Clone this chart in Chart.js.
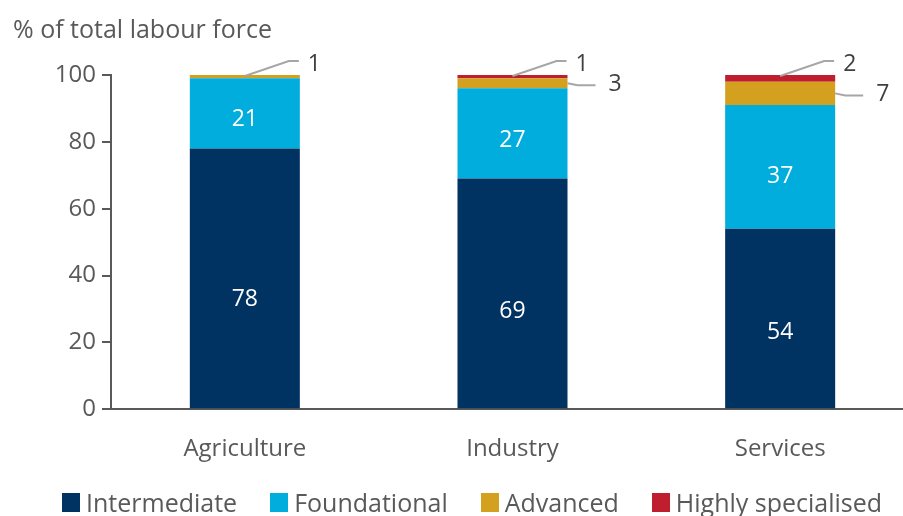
<!DOCTYPE html>
<html>
<head>
<meta charset="utf-8">
<script src="https://cdn.jsdelivr.net/npm/chart.js@4.4.1/dist/chart.umd.min.js"></script>
<style>
  html, body { margin: 0; padding: 0; background: #fff; overflow: hidden; }
  #wrap { position: relative; width: 914px; height: 516px; }
  #legend {
    position: absolute; left: 62px; top: 490px;
    display: flex; font-family: 'Open Sans', sans-serif; font-size: 25px;
    line-height: 25px; color: #595959; white-space: nowrap;
  }
  .item { display: flex; align-items: center; margin-right: 33px; }
  .box { width: 18px; height: 19px; margin-right: 6px; }
</style>
</head>
<body>
<div id="wrap">
  <canvas id="skillsChart" width="914" height="516"></canvas>
  <div id="legend"></div>
</div>
<script>
// --- data ---
const sectors = ['Agriculture', 'Industry', 'Services'];
const intermediate = [78, 69, 54];
const foundational = [21, 27, 37];
const advanced = [1, 3, 7];
const highlySpecialised = [0, 1, 2];
const yTicks = [0, 20, 40, 60, 80, 100];

const axisGrey = '#595959';
Chart.defaults.font.family = "'Open Sans', sans-serif";
Chart.defaults.color = axisGrey;

// labels inside the two big segments, leader lines for the small ones on top
const valueLabels = {
    id: 'valueLabels',
    afterDatasetsDraw(chart) {
        const ctx = chart.ctx;
        const y = chart.scales.y;
        const top = y.getPixelForValue(100);
        const sets = chart.data.datasets;
        ctx.save();
        ctx.font = "23px 'Open Sans', sans-serif";
        ctx.textBaseline = 'middle';
        sets.forEach((ds, d) => {
            const meta = chart.getDatasetMeta(d);
            meta.data.forEach((bar, i) => {
                const v = ds.data[i];
                if (!v) return;
                if (d < 2) {
                    ctx.fillStyle = '#ffffff';
                    ctx.textAlign = 'center';
                    const yy = bar.base - (bar.base - bar.y) * 0.42;
                    ctx.fillText(String(v), bar.x, yy);
                    return;
                }
                const isTop = !sets.slice(d + 1).some(s => s.data[i] > 0);
                ctx.strokeStyle = '#a6a6a6';
                ctx.lineWidth = 2;
                ctx.fillStyle = '#404040';
                ctx.textAlign = 'left';
                ctx.beginPath();
                if (isTop) {
                    ctx.moveTo(bar.x, bar.y + 1);
                    ctx.lineTo(bar.x + 44, top - 14);
                    ctx.lineTo(bar.x + 54, top - 14);
                    ctx.stroke();
                    ctx.fillText(String(v), bar.x + 63, top - 11);
                } else {
                    const right = bar.x + bar.width / 2;
                    const mid = (bar.y + bar.base) / 2;
                    ctx.moveTo(right, mid);
                    ctx.lineTo(right + 10, mid + 2);
                    ctx.lineTo(right + 28, mid + 2);
                    ctx.stroke();
                    ctx.fillText(String(v), right + 41, mid + 1);
                }
            });
        });
        // axis title
        ctx.font = "25px 'Open Sans', sans-serif";
        ctx.fillStyle = axisGrey;
        ctx.textAlign = 'left';
        ctx.fillText('% of total labour force', 13, 31);
        ctx.restore();
    }
};

const chart = new Chart(document.getElementById('skillsChart'), {
    type: 'bar',
    data: {
        labels: sectors,
        datasets: [
            { label: 'Intermediate', data: intermediate, backgroundColor: '#003262' },
            { label: 'Foundational', data: foundational, backgroundColor: '#00addc' },
            { label: 'Advanced', data: advanced, backgroundColor: '#d4a020' },
            { label: 'Highly specialised', data: highlySpecialised, backgroundColor: '#be1e2d' }
        ]
    },
    options: {
        responsive: false,
        animation: false,
        layout: { padding: { top: 75, right: 0, bottom: 26, left: 0 } },
        datasets: {
            bar: { barPercentage: 0.411, categoryPercentage: 1, borderWidth: 0 }
        },
        plugins: {
            legend: { display: false },
            tooltip: { enabled: false }
        },
        scales: {
            x: {
                stacked: true,
                grid: { display: false, drawTicks: false },
                border: { display: true, color: axisGrey, width: 2 },
                ticks: { font: { size: 24 }, color: axisGrey, padding: 26 }
            },
            y: {
                stacked: true,
                min: 0,
                max: 100,
                afterBuildTicks: s => { s.ticks = yTicks.map(v => ({ value: v })); },
                afterFit: s => { s.width = 111; },
                grid: { drawOnChartArea: false, drawTicks: true, tickLength: 9, color: axisGrey, lineWidth: 2 },
                border: { display: true, color: axisGrey, width: 2 },
                ticks: { font: { size: 24 }, color: axisGrey, padding: 6 }
            }
        }
    },
    plugins: [valueLabels]
});

// html legend from the datasets
const legendEl = document.getElementById('legend');
chart.data.datasets.forEach(ds => {
    const item = document.createElement('div');
    item.className = 'item';
    const box = document.createElement('span');
    box.className = 'box';
    box.style.background = ds.backgroundColor;
    item.appendChild(box);
    item.appendChild(document.createTextNode(ds.label));
    legendEl.appendChild(item);
});
</script>
</body>
</html>
